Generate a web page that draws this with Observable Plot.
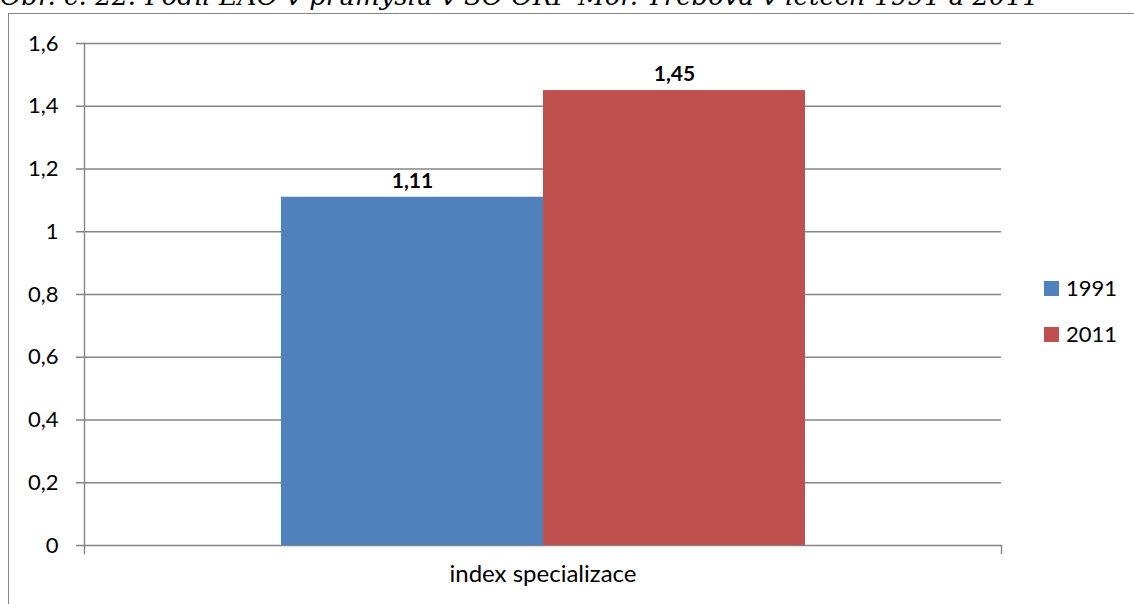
<!DOCTYPE html>
<html>
<head>
<meta charset="utf-8">
<script src="https://cdn.jsdelivr.net/npm/d3@7"></script>
<script src="https://cdn.jsdelivr.net/npm/@observablehq/plot@0.6"></script>
<style>
  html, body { margin: 0; padding: 0; background: #fff; }
  #wrap { position: relative; width: 1134px; height: 604px; overflow: hidden; background: #fff; font-family: Lato, "Open Sans", sans-serif; }
  #title { position: absolute; left: 0px; top: -20px; font-family: "DejaVu Serif", "Liberation Serif", serif; font-style: italic; font-size: 26px; line-height: 32px; white-space: nowrap; color: #000; }
  #border { position: absolute; left: 8px; top: 13px; width: 1200px; height: 700px; border: 1.5px solid #868686; box-sizing: border-box; }
  #chart { position: absolute; left: 0; top: 0; }
  .leg { position: absolute; left: 1044px; font-size: 22px; line-height: 24px; color: #000; display: flex; align-items: center; }
  .leg span.sw { display: inline-block; width: 15px; height: 15px; margin-right: 7px; }
</style>
</head>
<body>
<div id="wrap">
  <div id="border"></div>
  <div id="chart"></div>
  <div id="legend"></div>
  <div id="title"></div>
</div>
<script>
const titleText = "Obr. č. 22: Podíl EAO v průmyslu v SO ORP Mor. Třebová v letech 1991 a 2011";
const category = "index specializace";
const years = ["1991", "2011"];
const values = [1.11, 1.45];
const colors = ["#4f81bd", "#c0504d"];
const yTicks = [0, 0.2, 0.4, 0.6, 0.8, 1, 1.2, 1.4, 1.6];

const data = years.map((y, i) => ({year: y, value: values[i]}));
const fmt = d => String(d).replace(".", ",");

document.getElementById("title").textContent = titleText;

const W = 1134, H = 604, mT = 43, mB = 59, mL = 84, mR = 133;
const gridColor = "#868686";

const chart = Plot.plot({
  width: W,
  height: H,
  marginTop: mT,
  marginBottom: mB,
  marginLeft: mL,
  marginRight: mR,
  style: {fontFamily: "Lato, 'Open Sans', sans-serif", fontSize: "22px", color: "#000", background: "transparent", overflow: "visible"},
  x: {type: "band", domain: years, paddingInner: 0, paddingOuter: 0.745, axis: null},
  y: {domain: [0, 1.6], ticks: yTicks, tickFormat: fmt, label: null},
  color: {domain: years, range: colors},
  marks: [
    Plot.ruleY(yTicks, {stroke: gridColor, strokeWidth: 1.4, insetLeft: -8}),
    Plot.frame({anchor: "left", stroke: gridColor, strokeWidth: 1.4, insetBottom: -8}),
    Plot.frame({anchor: "right", stroke: gridColor, strokeWidth: 1.4, insetTop: H - mT - mB, insetBottom: -8}),
    Plot.barY(data, {x: "year", y: "value", fill: "year"}),
    Plot.text(data, {x: "year", y: "value", text: d => fmt(d.value), dy: -16, fontWeight: "bold", fontSize: 21, fill: "#000"}),
    Plot.text([category], {text: d => d, frameAnchor: "bottom", dy: 36, fontSize: 24, fill: "#000"}),
    Plot.axisY({ticks: yTicks, tickFormat: fmt, tickSize: 0, tickPadding: 26, fontSize: 22, fill: "#000", label: null})
  ]
});
document.getElementById("chart").appendChild(chart);

const legend = document.getElementById("legend");
const legTops = [276, 322];
years.forEach((y, i) => {
  const d = document.createElement("div");
  d.className = "leg";
  d.style.top = legTops[i] + "px";
  d.innerHTML = `<span class="sw" style="background:${colors[i]}"></span><span>${y}</span>`;
  legend.appendChild(d);
});
</script>
</body>
</html>
